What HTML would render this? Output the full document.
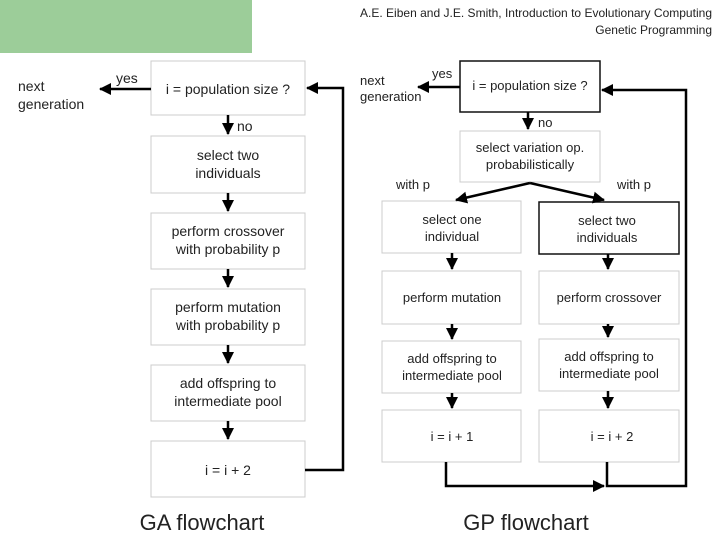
<!DOCTYPE html>
<html><head><style>
body{margin:0;width:720px;height:540px;background:#fff;overflow:hidden}
svg text{font-family:"Liberation Sans",sans-serif;fill:#222}
</style></head><body>
<svg width="720" height="540" viewBox="0 0 720 540" xmlns="http://www.w3.org/2000/svg">
<defs><marker id="a" markerWidth="12" markerHeight="12" refX="11" refY="6" orient="auto" markerUnits="userSpaceOnUse"><path d="M0,0L12,6L0,12z" fill="#000"/></marker></defs>
<rect x="0" y="0" width="252" height="53" fill="#9ccd99"/>
<text x="712" y="17" font-size="12" text-anchor="end" textLength="352">A.E. Eiben and J.E. Smith, Introduction to Evolutionary Computing</text>
<text x="712" y="34" font-size="12" text-anchor="end">Genetic Programming</text>
<g fill="#fff" stroke="#ccc" stroke-width="1">
<rect x="151" y="61" width="154" height="54"/>
<rect x="151" y="136" width="154" height="57"/>
<rect x="151" y="213" width="154" height="56"/>
<rect x="151" y="289" width="154" height="56"/>
<rect x="151" y="365" width="154" height="56"/>
<rect x="151" y="441" width="154" height="56"/>
<rect x="460" y="131" width="140" height="51"/>
<rect x="382" y="201" width="139" height="52"/>
<rect x="382" y="271" width="139" height="53"/>
<rect x="539" y="271" width="140" height="53"/>
<rect x="382" y="341" width="139" height="52"/>
<rect x="539" y="339" width="140" height="52"/>
<rect x="382" y="410" width="139" height="52"/>
<rect x="539" y="410" width="140" height="52"/>
</g>
<g fill="#fff" stroke="#111" stroke-width="1.5">
<rect x="460" y="61" width="140" height="51"/>
<rect x="539" y="202" width="140" height="52"/>
</g>
<g font-size="14" text-anchor="middle">
<text x="228" y="94">i = population size ?</text>
<text x="228" y="160">select two</text><text x="228" y="178">individuals</text>
<text x="228" y="236">perform crossover</text><text x="228" y="254">with probability p</text>
<text x="228" y="312">perform mutation</text><text x="228" y="330">with probability p</text>
<text x="228" y="388">add offspring to</text><text x="228" y="406">intermediate pool</text>
<text x="228" y="475">i = i + 2</text>
<text x="530" y="90" font-size="13">i = population size ?</text>
<text x="530" y="152" font-size="13">select variation op.</text><text x="530" y="169" font-size="13">probabilistically</text>
<text x="452" y="224" font-size="13">select one</text><text x="452" y="241" font-size="13">individual</text>
<text x="607" y="225" font-size="13">select two</text><text x="607" y="242" font-size="13">individuals</text>
<text x="452" y="302" font-size="13">perform mutation</text>
<text x="609" y="302" font-size="13">perform crossover</text>
<text x="452" y="363" font-size="13">add offspring to</text><text x="452" y="380" font-size="13">intermediate pool</text>
<text x="609" y="361" font-size="13">add offspring to</text><text x="609" y="378" font-size="13">intermediate pool</text>
<text x="452" y="441" font-size="13">i = i + 1</text>
<text x="612" y="441" font-size="13">i = i + 2</text>
</g>
<g font-size="14">
<text x="18" y="91">next</text><text x="18" y="109">generation</text>
<text x="116" y="83">yes</text><text x="237" y="131">no</text>
<text x="360" y="85" font-size="13">next</text><text x="360" y="101" font-size="13">generation</text>
<text x="432" y="78" font-size="13">yes</text><text x="538" y="127" font-size="13">no</text>
<text x="396" y="189" font-size="13">with p</text><text x="617" y="189" font-size="13">with p</text>
</g>
<g stroke="#000" stroke-width="2.5" fill="none" marker-end="url(#a)">
<line x1="151" y1="89" x2="100" y2="89"/>
<line x1="228" y1="115" x2="228" y2="134"/>
<line x1="228" y1="193" x2="228" y2="211"/>
<line x1="228" y1="269" x2="228" y2="287"/>
<line x1="228" y1="345" x2="228" y2="363"/>
<line x1="228" y1="421" x2="228" y2="439"/>
<polyline points="305,470 343,470 343,88 307,88"/>
<line x1="460" y1="87" x2="418" y2="87"/>
<line x1="528" y1="112" x2="528" y2="129"/>
<line x1="530" y1="183" x2="456" y2="200"/>
<line x1="530" y1="183" x2="604" y2="200"/>
<line x1="452" y1="253" x2="452" y2="269"/>
<line x1="608" y1="254" x2="608" y2="269"/>
<line x1="452" y1="324" x2="452" y2="339"/>
<line x1="608" y1="324" x2="608" y2="337"/>
<line x1="452" y1="393" x2="452" y2="408"/>
<line x1="608" y1="391" x2="608" y2="408"/>
<polyline points="446,462 446,486 604,486"/>
<polyline points="607,462 607,486 686,486 686,90 602,90"/>
</g>
<text x="202" y="530" font-size="22" text-anchor="middle">GA flowchart</text>
<text x="526" y="530" font-size="22" text-anchor="middle">GP flowchart</text>
</svg>
</body></html>
